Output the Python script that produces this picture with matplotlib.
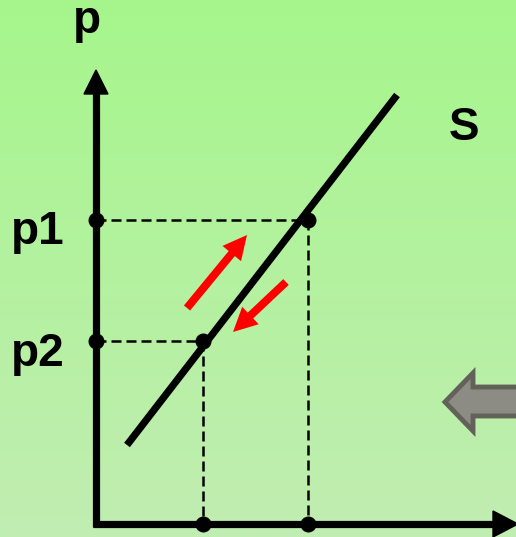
import numpy as np
import matplotlib
matplotlib.use("Agg")
import matplotlib.pyplot as plt
from matplotlib.patches import Polygon, FancyArrow

plt.rcParams['font.family'] = ['Liberation Sans', 'DejaVu Sans']

# Diagram values (pixel-space coordinates of the sketch)
price_levels = [220, 341]          # p1, p2
quantity_levels = [308, 203]       # q at p1, q at p2
price_labels = ["p1", "p2"]
supply_x = [127, 397]
supply_y = [445, 95]
origin = (96, 524)
red_arrows = [((187, 308), (247, 235)), ((286, 282), (233, 332))]

W, H = 516, 537
fig = plt.figure(figsize=(W / 100, H / 100), dpi=100)
ax = fig.add_axes([0, 0, 1, 1])
ax.set_xlim(0, W)
ax.set_ylim(H, 0)
ax.axis('off')

# background gradient
top = np.array([166, 246, 140]) / 255
bot = np.array([193, 237, 178]) / 255
t = np.linspace(0, 1, 256)[:, None]
grad = top[None, :] * (1 - t) + bot[None, :] * t
grad = np.repeat(grad[:, None, :], 2, axis=1)
ax.imshow(grad, extent=[0, W, H, 0], aspect='auto', zorder=0)

ox, oy = origin
# axes
ax.plot([ox, ox], [oy + 3, 90], color='black', lw=5.2, solid_capstyle='butt', zorder=3)
ax.plot([ox - 3, 496], [oy, oy], color='black', lw=5.2, solid_capstyle='butt', zorder=3)
ax.add_patch(Polygon([[ox, 70], [ox - 12, 94], [ox + 12, 94]], closed=True, color='black', zorder=3))
ax.add_patch(Polygon([[518, oy], [493, oy - 13], [493, oy + 13]], closed=True, color='black', zorder=3))

# supply line
ax.plot(supply_x, supply_y, color='black', lw=5.2, solid_capstyle='butt', zorder=3)

# dashed guides
for p, q in zip(price_levels, quantity_levels):
    ax.plot([ox, q], [p, p], color='black', lw=1.8, dashes=(4.0, 2.0), zorder=2)
    ax.plot([q, q], [p, oy], color='black', lw=1.8, dashes=(4.0, 2.0), zorder=2)

# dots
for p, q in zip(price_levels, quantity_levels):
    ax.plot([ox, q, q], [p, p, oy], 'o', color='black', ms=10.5, zorder=4)

# red arrows
for (x0, y0), (x1, y1) in red_arrows:
    ax.add_patch(FancyArrow(x0, y0, x1 - x0, y1 - y0, width=8, head_width=24,
                            head_length=24, length_includes_head=True,
                            color='#ff0000', lw=0, zorder=3))

# grey arrow at right
grey = Polygon([[445, 402], [473, 373], [473, 387], [530, 387], [530, 416],
                [473, 416], [473, 431]], closed=True, facecolor='#8c8c85',
               edgecolor='#62625b', lw=3.5, joinstyle='miter', zorder=3)
ax.add_patch(grey)

# labels
fs = 33
ax.text(73, 33, "p", fontsize=fs, fontweight='bold', ha='left', va='baseline', zorder=5)
ax.text(449, 140, "S", fontsize=fs, fontweight='bold', ha='left', va='baseline', zorder=5)
for p, lab in zip(price_levels, price_labels):
    ax.text(11, p + 24.5, lab, fontsize=fs, fontweight='bold', ha='left', va='baseline', zorder=5)

fig.savefig("out.png", dpi=100)
